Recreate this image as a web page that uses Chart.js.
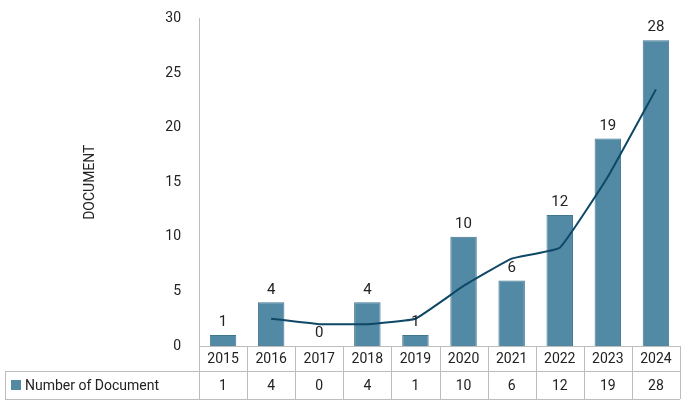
<!DOCTYPE html>
<html>
<head>
<meta charset="utf-8">
<script src="https://cdn.jsdelivr.net/npm/chart.js@4"></script>
<style>
  body { margin: 0; background: #fff; }
  #wrap { width: 684px; height: 406px; }
</style>
</head>
<body>
<div id="wrap"><canvas id="docChart"></canvas></div>
<script>
// data
const years = ['2015', '2016', '2017', '2018', '2019', '2020', '2021', '2022', '2023', '2024'];
const documents = [1, 4, 0, 4, 1, 10, 6, 12, 19, 28];
const trend = [null, 2.5, 2, 2, 2.5, 5.5, 8, 9, 15.5, 23.5];
const yTicks = [0, 5, 10, 15, 20, 25, 30];

const barColor = '#5289a4';
const lineColor = '#0e4866';
const font = 'Roboto, "DejaVu Sans", sans-serif';

// numbers above bars + the data table under the axis
const tablePlugin = {
  id: 'tablePlugin',
  afterDatasetsDraw(chart) {
    const ctx = chart.ctx;
    const x = chart.scales.x;
    const area = chart.chartArea;
    const meta = chart.getDatasetMeta(1);

    ctx.save();
    ctx.font = '15px ' + font;
    ctx.fillStyle = '#222';
    ctx.textAlign = 'center';
    ctx.textBaseline = 'bottom';
    meta.data.forEach((bar, i) => {
      ctx.fillText(String(documents[i]), bar.x, bar.y - 5);
    });

    const top = area.bottom, mid = top + 25, bot = mid + 28;
    const step = (area.right - area.left) / years.length;
    const tableLeft = 5;
    ctx.strokeStyle = '#bdbdbd';
    ctx.lineWidth = 1;
    ctx.beginPath();
    ctx.moveTo(tableLeft, mid + 0.5); ctx.lineTo(area.right, mid + 0.5);
    ctx.moveTo(tableLeft, bot + 0.5); ctx.lineTo(area.right, bot + 0.5);
    ctx.moveTo(tableLeft + 0.5, mid); ctx.lineTo(tableLeft + 0.5, bot);
    for (let i = 0; i <= years.length; i++) {
      const gx = Math.round(area.left + i * step) + 0.5;
      ctx.moveTo(gx, top); ctx.lineTo(gx, bot);
    }
    ctx.stroke();

    ctx.textBaseline = 'middle';
    ctx.font = '14px ' + font;
    years.forEach((y, i) => {
      const cx = x.getPixelForValue(i);
      ctx.fillText(y, cx, (top + mid) / 2 + 1);
      ctx.fillText(String(documents[i]), cx, (mid + bot) / 2 + 1);
    });

    ctx.fillStyle = barColor;
    ctx.fillRect(11, (mid + bot) / 2 - 5, 10, 10);
    ctx.fillStyle = '#222';
    ctx.textAlign = 'left';
    ctx.fillText('Number of Document', 25, (mid + bot) / 2 + 1);
    ctx.restore();
  }
};

new Chart(document.getElementById('docChart'), {
  data: {
    labels: years,
    datasets: [
      {
        type: 'line',
        data: trend,
        borderColor: lineColor,
        borderWidth: 2,
        pointRadius: 0,
        tension: 0.1,
        order: 0
      },
      {
        type: 'bar',
        data: documents,
        backgroundColor: barColor,
        borderColor: '#3f7690',
        borderWidth: 1,
        categoryPercentage: 1,
        barPercentage: 0.55,
        order: 1
      }
    ]
  },
  options: {
    responsive: true,
    maintainAspectRatio: false,
    animation: false,
    layout: { padding: { left: 78, right: 4, top: 2, bottom: 52 } },
    plugins: { legend: { display: false }, tooltip: { enabled: false } },
    scales: {
      x: {
        grid: { display: false },
        border: { color: '#bdbdbd' },
        ticks: { display: false }
      },
      y: {
        min: 0,
        max: 30,
        afterBuildTicks: s => { s.ticks = yTicks.map(v => ({ value: v })); },
        afterFit: s => { s.width = 121; },
        grid: { display: false },
        border: { color: '#bdbdbd' },
        ticks: { color: '#222', font: { family: font, size: 14 }, padding: 10 },
        title: { display: true, text: 'DOCUMENT', color: '#222', font: { family: font, size: 14 } }
      }
    }
  },
  plugins: [tablePlugin]
});
</script>
</body>
</html>
